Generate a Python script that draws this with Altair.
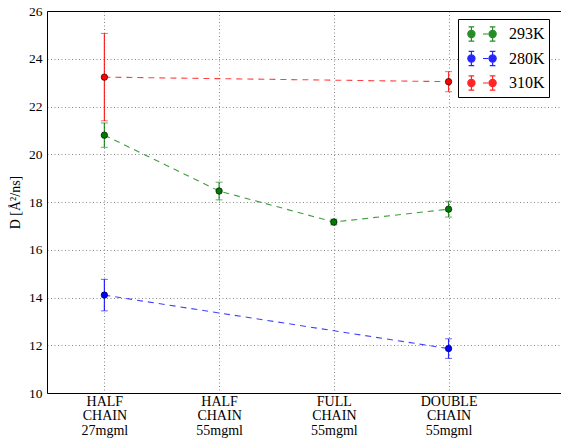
import altair as alt
import pandas as pd

# ---- data ----
positions = [1, 2, 3, 4]
tick_labels = [
    ["HALF", "CHAIN", "27mgml"],
    ["HALF", "CHAIN", "55mgml"],
    ["FULL", "CHAIN", "55mgml"],
    ["DOUBLE", "CHAIN", "55mgml"],
]
series_names = ["293K", "280K", "310K"]
series_colors = ["#007a00", "#0000ff", "#ff0000"]

x_293 = [1, 2, 3, 4]
y_293 = [20.80, 18.46, 17.16, 17.70]
e_293 = [0.51, 0.37, 0.12, 0.33]

x_280 = [1, 4]
y_280 = [14.10, 11.86]
e_280 = [0.66, 0.41]

x_310 = [1, 4]
y_310 = [23.23, 23.04]
e_310 = [1.83, 0.42]

rows = []
for name, xs, ys, es in [("293K", x_293, y_293, e_293),
                         ("280K", x_280, y_280, e_280),
                         ("310K", x_310, y_310, e_310)]:
    for xv, yv, ev in zip(xs, ys, es):
        rows.append({"series": name, "x": xv, "y": yv, "lo": yv - ev, "hi": yv + ev})
df = pd.DataFrame(rows)

# ---- label expression for multi-line tick labels ----
expr = "''"
for p, lab in reversed(list(zip(positions, tick_labels))):
    arr = "[" + ",".join("'" + s + "'" for s in lab) + "]"
    expr = f"datum.value == {p} ? {arr} : ({expr})"

FONT = "Liberation Serif"

# legend symbol: marker + errorbar, dash, marker + errorbar
sym = (
    "M-1.42,0 A0.36,0.36 0 1,0 -0.7,0 A0.36,0.36 0 1,0 -1.42,0 Z "
    "M0.7,0 A0.36,0.36 0 1,0 1.42,0 A0.36,0.36 0 1,0 0.7,0 Z "
    "M-1.06,-0.72 L-1.06,0.72 M-1.34,-0.72 L-0.78,-0.72 M-1.34,0.72 L-0.78,0.72 "
    "M1.06,-0.72 L1.06,0.72 M0.78,-0.72 L1.34,-0.72 M0.78,0.72 L1.34,0.72 "
    "M0.1,0 L0.62,0"
)

leg = alt.Legend(
    title=None, orient="none", legendX=411, legendY=8,
    symbolType=sym, symbolSize=400, symbolStrokeWidth=1.2,
    labelFont=FONT, labelFontSize=16, labelColor="black",
    padding=4, rowPadding=3.5, symbolOffset=9, labelOffset=16,
    fillColor="white", strokeColor="black",
)

cscale = alt.Scale(domain=series_names, range=series_colors)
# same colours, listed in another order (used by layers without legend)
alt_order = ["280K", "293K", "310K"]
cscale2 = alt.Scale(domain=alt_order,
                    range=[series_colors[series_names.index(s)] for s in alt_order])

xenc = alt.X("x:Q", scale=alt.Scale(domain=[0.5, 4.98], nice=False, zero=False),
             axis=alt.Axis(orient="bottom", values=positions, labelExpr=expr, title=None,
                           labelFont=FONT, labelFontSize=14, labelLineHeight=14.5,
                           labelColor="black", labelPadding=1, labelBaseline="top",
                           labelOverlap=False,
                           ticks=False, grid=True, gridDash=[1, 2.5], gridColor="#888",
                           domainColor="black", domainWidth=1, labelAngle=0))
yenc = alt.Y("y:Q", scale=alt.Scale(domain=[10, 26], nice=False, zero=False),
             axis=alt.Axis(values=list(range(10, 27, 2)), title="D [Å²/ns]",
                           titleFont=FONT, titleFontSize=14, titleFontWeight="normal",
                           titleColor="black", titlePadding=6,
                           labelFont=FONT, labelFontSize=13.5, labelColor="black",
                           labelPadding=5, ticks=False, grid=True, gridDash=[1, 2.5],
                           gridColor="#888", domainColor="black", domainWidth=1))
xnone = alt.X("x:Q", axis=None)

base = alt.Chart(df)

lines = base.mark_line(strokeDash=[6, 5], strokeWidth=1.1, opacity=0.75).encode(
    x=xenc, y=yenc, color=alt.Color("series:N", scale=cscale2, legend=None),
    detail="series:N")

top_border = base.mark_line(opacity=0).encode(
    x=alt.X("x:Q", axis=alt.Axis(orient="top", labels=False, ticks=False, grid=False,
                                 title=None, domainColor="black", domainWidth=1)),
    y="y:Q")

bars = base.mark_rule(strokeWidth=1.2, opacity=0.85).encode(
    x=xnone, y="lo:Q", y2="hi:Q",
    stroke=alt.Stroke("series:N", scale=cscale, legend=leg))

cap_lo = base.mark_tick(orient="horizontal", size=7, thickness=1, opacity=0.6).encode(
    x=xnone, y="lo:Q", color=alt.Color("series:N", scale=cscale2, legend=None))
cap_hi = base.mark_tick(orient="horizontal", size=7, thickness=1, opacity=0.6).encode(
    x=xnone, y="hi:Q", color=alt.Color("series:N", scale=cscale2, legend=None))

points = base.mark_point(filled=True, size=42, stroke="black", strokeWidth=0.6,
                         opacity=1).encode(
    x=xnone, y="y:Q", fill=alt.Fill("series:N", scale=cscale, legend=leg))

chart = alt.layer(lines, top_border, bars, cap_lo, cap_hi, points).resolve_axis(
    x="independent"
).properties(
    width=514, height=382,
    autosize=alt.AutoSizeParams(type="none"),
    padding={"left": 47, "top": 11, "right": 0, "bottom": 46},
).configure_view(stroke=None).configure(background="white")

chart.save("out.html", embed_options={"renderer": "svg", "actions": False})
